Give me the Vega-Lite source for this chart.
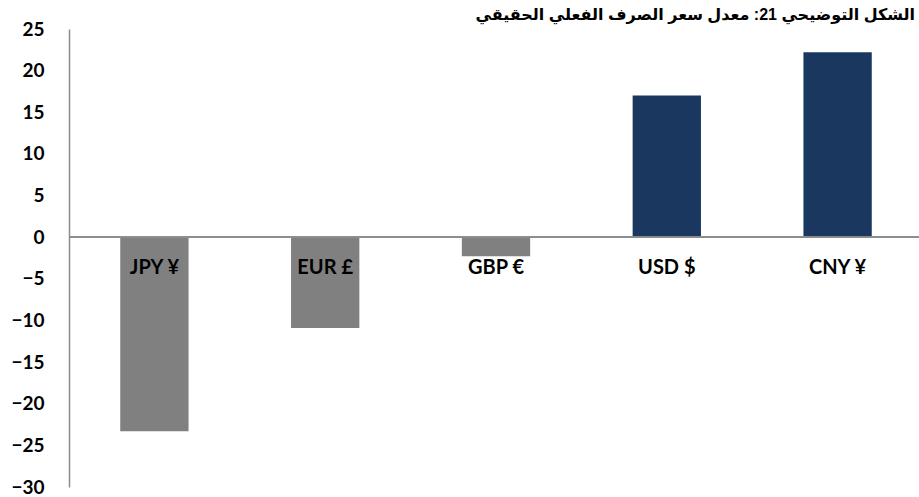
{
  "$schema": "https://vega.github.io/schema/vega-lite/v6.json",
  "autosize": {"type": "none"},
  "padding": {"left": 69, "top": 29, "right": 0, "bottom": 10},
  "width": 854,
  "height": 458,
  "background": "white",
  "title": {
    "text": "الشكل التوضيحي 21: معدل  سعر الصرف الفعلي الحقيقي",
    "anchor": "end",
    "frame": "group",
    "dx": -8,
    "offset": -3,
    "font": "Liberation Sans, DejaVu Sans",
    "fontSize": 16,
    "fontWeight": "bold",
    "color": "black"
  },
  "config": {"view": {"stroke": null}},
  "data": {
    "values": [
      {"currency": "JPY ¥", "value": -23.3, "group": "neg"},
      {"currency": "EUR £", "value": -10.9, "group": "neg"},
      {"currency": "GBP €", "value": -2.3, "group": "neg"},
      {"currency": "USD $", "value": 17.0, "group": "pos"},
      {"currency": "CNY ¥", "value": 22.2, "group": "pos"}
    ]
  },
  "encoding": {
    "x": {
      "field": "currency",
      "type": "nominal",
      "sort": null,
      "scale": {"paddingInner": 0.6, "paddingOuter": 0.3},
      "axis": null
    }
  },
  "layer": [
    {
      "mark": {"type": "bar"},
      "encoding": {
        "y": {
          "field": "value",
          "type": "quantitative",
          "scale": {"domain": [-30, 25], "nice": false, "zero": false},
          "axis": {
            "title": null,
            "values": [-30, -25, -20, -15, -10, -5, 0, 5, 10, 15, 20, 25],
            "grid": false,
            "ticks": false,
            "domainColor": "#8c8c8c",
            "domainWidth": 1.5,
            "labelFont": "Lato",
            "labelFontWeight": "bold",
            "labelFontSize": 19,
            "labelColor": "black",
            "labelPadding": 25
          }
        },
        "color": {
          "field": "group",
          "type": "nominal",
          "scale": {"domain": ["neg", "pos"], "range": ["#808080", "#1a375f"]},
          "legend": null
        }
      }
    },
    {
      "mark": {"type": "rule", "color": "#8c8c8c", "strokeWidth": 1.5},
      "encoding": {"y": {"datum": 0}, "x": null}
    },
    {
      "mark": {
        "type": "text",
        "font": "Lato",
        "fontWeight": "bold",
        "fontSize": 20,
        "color": "black",
        "baseline": "middle",
        "dy": 31
      },
      "encoding": {
        "y": {"datum": 0},
        "text": {"field": "currency"}
      }
    }
  ]
}
